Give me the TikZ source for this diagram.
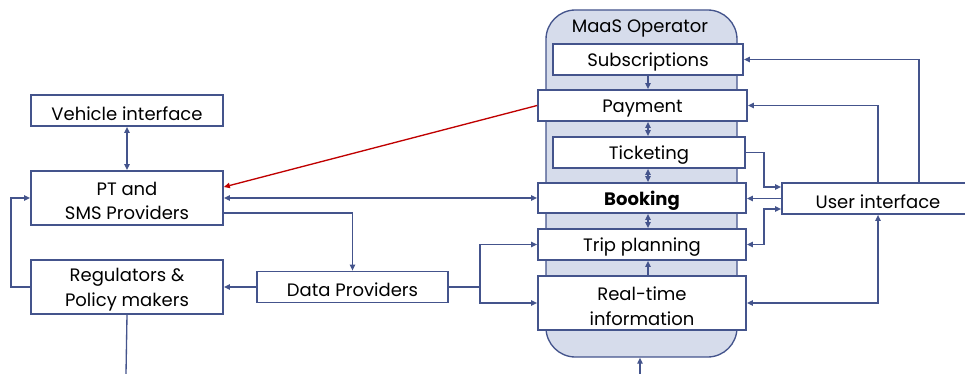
\documentclass[tikz,border=0pt]{standalone}
\usepackage{fontspec}
\setmainfont{Poppins}
\usetikzlibrary{arrows.meta,calc}
\definecolor{lineblue}{RGB}{68,84,140}
\definecolor{opfill}{RGB}{214,220,235}
\definecolor{arrowred}{RGB}{192,0,0}
\begin{document}
\begin{tikzpicture}[x=0.75pt,y=-0.75pt,
  size/.style 2 args={minimum width=#1*0.75pt, minimum height=#2*0.75pt},
  box/.style={draw=lineblue, line width=1.3pt, fill=white, inner sep=0pt},
  txt/.style={inner sep=0pt, yshift=-2.2pt, align=center,
    font=\fontsize{13.5}{18.5}\selectfont},
  conn/.style={draw=lineblue, line width=1pt},
  tip/.style={-{Triangle[length=4.5pt,width=4pt]}},
  tips/.style={{Triangle[length=4.5pt,width=4pt]}-{Triangle[length=4.5pt,width=4pt]}},
  redconn/.style={draw=arrowred, line width=1pt, -{Triangle[length=4.5pt,width=4pt]}}]
\useasboundingbox (0,0) rectangle (965,374);
\fill[white] (0,0) rectangle (965,374);

% MaaS operator container
\node[draw=lineblue, line width=1pt, fill=opfill, rounded corners=22pt,
  size={191}{347}] (op) at (641.5,183.5) {};
\node[txt] (optitle) at (640,26) {MaaS Operator};

% Operator services
\node[box, size={190}{31}] (subs) at (648,59.5) {};
\node[box, size={209}{31}] (pay) at (642.5,105.5) {};
\node[box, size={192}{31}] (tick) at (649,152.5) {};
\node[box, size={208}{30}] (book) at (642,198) {};
\node[box, size={208}{31}] (trip) at (642,244.5) {};
\node[box, size={208}{54}] (rt) at (642,303) {};

% Surrounding actors
\node[box, size={192}{31}] (ui) at (878,198.5) {};
\node[box, size={192}{31}] (veh) at (127,110.5) {};
\node[box, size={192}{54}] (pt) at (127,198) {};
\node[box, size={192}{54}] (reg) at (127,287) {};
\node[box, size={191}{31}] (data) at (352.5,287) {};

% box labels
\node[txt] (subsT) at (subs) {Subscriptions};
\node[txt] (payT) at (pay) {Payment};
\node[txt] (tickT) at (tick) {Ticketing};
\node[txt] (bookT) at (book) {\bfseries Booking};
\node[txt] (tripT) at (trip) {Trip planning};
\node[txt] (rtT) at (rt) {Real-time\\information};
\node[txt] (uiT) at (ui) {User interface};
\node[txt] (vehT) at (veh) {Vehicle interface};
\node[txt] (ptT) at (pt) {PT and\\SMS Providers};
\node[txt] (regT) at (reg) {Regulators \&\\Policy makers};
\node[txt] (dataT) at (data) {Data Providers};

% helper coordinates
\coordinate (uiA) at (919,0);
\coordinate (uiB) at (878,0);
\coordinate (midx) at (648,0);
\coordinate (opin) at (640,374);
\coordinate (regout) at (126,374);

% inside the operator
\draw[conn,tip] (subs.south -| midx) -- (pay.north -| midx);
\draw[conn,tips] (pay.south -| midx) -- (tick.north -| midx);
\draw[conn,tips] (tick.south -| midx) -- (book.north -| midx);
\draw[conn,tips] (book.south -| midx) -- (trip.north -| midx);
\draw[conn,tip] (rt.north -| midx) -- (trip.south -| midx);
\draw[conn,tip] (opin) -- (op.south -| opin);

% user interface links
\draw[conn,tip] (ui.north -| uiA) |- (subs.east);
\draw[conn,tip] (ui.north -| uiB) |- (pay.east);
\draw[conn,tip] (tick.east) -- ++(18,0) |- ($(ui.west)+(0,-11.5)$);
\draw[conn,tip] (ui.west) -- (ui.west -| book.east);
\draw[conn,tips] (trip.east) -- ++(17,0) |- ($(ui.west)+(0,10.5)$);
\draw[conn,tips] (ui.south -| uiB) |- (rt.east);

% left side links
\draw[conn,tips] (veh.south) -- (pt.north);
\draw[redconn] (pay.west) -- ($(pt.east)+(0,-11)$);
\draw[conn,tips] (pt.east) -- (book.west);
\draw[conn,tip] ($(pt.east)+(0,15)$) -| (data.north);
\draw[conn,tip] (data.west) -- (reg.east);
\draw[conn,tip] (reg.west) -- ++(-19,0) |- (pt.west);
\draw[conn] (reg.south) -- (regout);
\draw[conn,tip] (data.east) -- ++(31,0) coordinate (split) |- (trip.west);
\draw[conn,tip] (split) |- (rt.west);
\end{tikzpicture}
\end{document}
